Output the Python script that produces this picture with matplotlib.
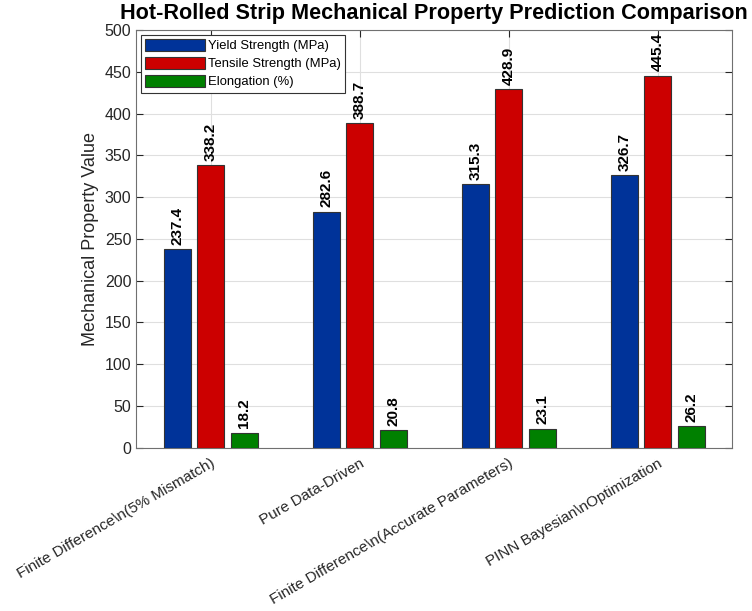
import numpy as np
import matplotlib
matplotlib.use("Agg")
import matplotlib.pyplot as plt

methods = [
    "Finite Difference\\n(5% Mismatch)",
    "Pure Data-Driven",
    "Finite Difference\\n(Accurate Parameters)",
    "PINN Bayesian\\nOptimization",
]
yield_strength = [237.4, 282.6, 315.3, 326.7]
tensile_strength = [338.2, 388.7, 428.9, 445.4]
elongation = [18.2, 20.8, 23.1, 26.2]

series_names = ["Yield Strength (MPa)", "Tensile Strength (MPa)", "Elongation (%)"]
colors = ["#003399", "#CC0000", "#008000"]

plt.rcParams["font.family"] = ["Liberation Sans", "DejaVu Sans"]
axis_color = "#262626"

fig = plt.figure(figsize=(7.52, 6.11), dpi=100)
ax = fig.add_axes([0.181, 0.267, 0.793, 0.684])

x = np.arange(1, len(methods) + 1)
width = 0.18
offsets = [-0.225, 0.0, 0.225]

for vals, off, col, name in zip([yield_strength, tensile_strength, elongation],
                                offsets, colors, series_names):
    bars = ax.bar(x + off, vals, width, color=col, edgecolor="#333333",
                  linewidth=0.8, label=name, zorder=3)
    for b, v in zip(bars, vals):
        ax.text(b.get_x() + b.get_width() / 2, v + 5, f"{v:.1f}",
                rotation=90, ha="center", va="bottom", fontsize=11,
                fontweight="bold", color="black", zorder=4)

ax.set_xlim(0.5, 4.5)
ax.set_ylim(0, 500)
ax.set_yticks(np.arange(0, 501, 50))
ax.set_xticks(x)
ax.set_xticklabels(methods, rotation=30, ha="right", rotation_mode="anchor",
                   fontsize=11, color=axis_color)
ax.tick_params(axis="both", direction="in", length=5, width=0.8,
               colors=axis_color, top=True, right=True, labelsize=11.5)
ax.tick_params(axis="x", labelsize=11, pad=6)

ax.grid(True, color="#dfdfdf", linewidth=0.8, zorder=0)
ax.set_axisbelow(True)
for sp in ax.spines.values():
    sp.set_color("#707070")
    sp.set_linewidth(0.8)

ax.set_ylabel("Mechanical Property Value", fontsize=13, color=axis_color, labelpad=4)
ax.set_title("Hot-Rolled Strip Mechanical Property Prediction Comparison",
             fontsize=15.6, fontweight="bold", pad=8)

leg = ax.legend(loc="upper left", fontsize=9.4, handlelength=4.6,
                handleheight=1.0, handletextpad=0.2, borderpad=0.35,
                labelspacing=0.36, fancybox=False, framealpha=1,
                edgecolor="#333333", borderaxespad=0.35)
leg.get_frame().set_linewidth(0.8)

fig.savefig("out.png", dpi=100)
